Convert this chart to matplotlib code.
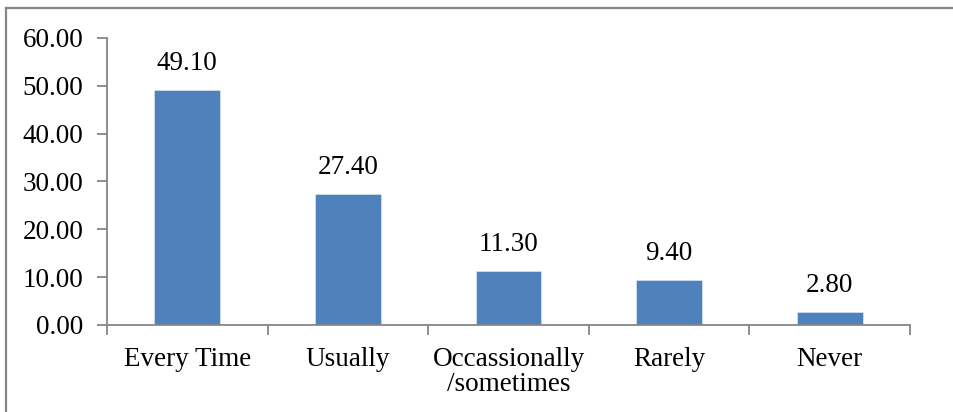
import matplotlib.pyplot as plt
from matplotlib.lines import Line2D

categories = ["Every Time", "Usually", "Occassionally\n/sometimes", "Rarely", "Never"]
values = [49.10, 27.40, 11.30, 9.40, 2.80]
yticks = [0, 10, 20, 30, 40, 50, 60]

BAR_COLOR = "#4F81BD"
AXIS_COLOR = "#868686"

plt.rcParams["font.family"] = ["Liberation Serif", "DejaVu Serif"]

fig = plt.figure(figsize=(9.54, 4.12), dpi=100)
ax = fig.add_axes([0.1122, 0.2112, 0.8417, 0.6966])

x = range(len(categories))
bars = ax.bar(x, values, width=0.41, color=BAR_COLOR, edgecolor="#DCE6F2", linewidth=0.5)

for b, v in zip(bars, values):
    ax.annotate(f"{v:.2f}", (b.get_x() + b.get_width() / 2, v),
                xytext=(0, 10), textcoords="offset points",
                ha="center", va="bottom", fontsize=19.5)

ax.set_xlim(-0.5, len(categories) - 0.5)
ax.set_ylim(0, 60)
ax.set_yticks(yticks)
ax.set_yticklabels([f"{t:.2f}" for t in yticks], fontsize=19.5)

# category labels centred, tick marks between categories
ax.set_xticks(list(x))
ax.set_xticklabels(categories, fontsize=19.5, linespacing=1.0)
ax.tick_params(axis="x", length=0, pad=16)
ax.set_xticks([i - 0.5 for i in range(len(categories) + 1)], minor=True)
ax.tick_params(axis="x", which="minor", length=7, width=1.3, color=AXIS_COLOR, direction="out")
ax.tick_params(axis="y", length=7, width=1.3, color=AXIS_COLOR, direction="out", pad=10)

for s in ["top", "right"]:
    ax.spines[s].set_visible(False)
for s in ["left", "bottom"]:
    ax.spines[s].set_color(AXIS_COLOR)
    ax.spines[s].set_linewidth(1.3)

# outer chart border (left and top visible)
fig.add_artist(Line2D([6.5 / 954, 6.5 / 954], [0, 1 - 7.5 / 412],
                      transform=fig.transFigure, color=AXIS_COLOR, lw=1.6))
fig.add_artist(Line2D([6.5 / 954, 1], [1 - 7.5 / 412, 1 - 7.5 / 412],
                      transform=fig.transFigure, color=AXIS_COLOR, lw=1.6))

fig.savefig("out.png", dpi=100)
